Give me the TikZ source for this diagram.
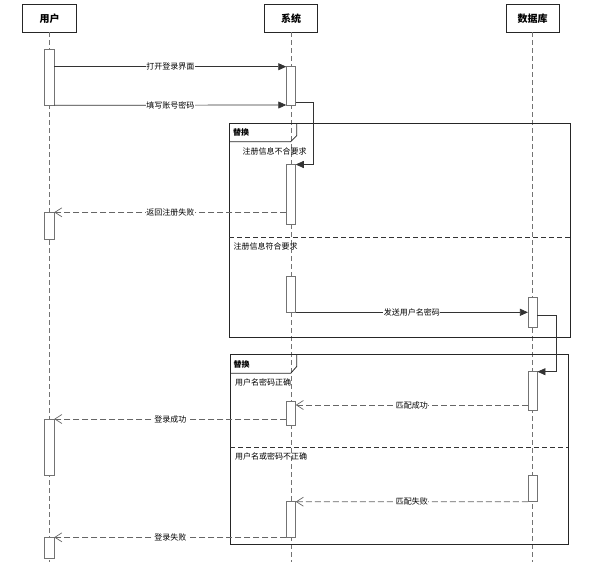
\documentclass[tikz,border=0pt]{standalone}
\usepackage{fontspec}
\setmainfont{Noto Sans CJK SC}
\usepackage{tikz}
\usetikzlibrary{arrows.meta,calc}
\tikzset{head/.style={draw=black!85,line width=0.9pt,fill=white,minimum width=53.5pt,minimum height=27.6pt,inner sep=0pt,outer sep=0pt,font=\fontsize{10}{12}\selectfont\bfseries},
  bar/.style={draw=black!55,line width=0.8pt,fill=white,minimum width=9.5pt,inner sep=0pt,outer sep=0pt,anchor=north},
  life/.style={draw=black!55,dash pattern=on 5pt off 3pt,line width=0.7pt},
  msg/.style={draw=black!80,line width=0.7pt,-{Triangle[length=8pt,width=7pt]}},
  ret/.style={draw=black!60,line width=0.7pt,dash pattern=on 6pt off 3pt,-{Straight Barb[length=7pt,width=9pt]}},
  lbl/.style={fill=white,inner sep=0.5pt,font=\fontsize{8}{9}\selectfont},
  guard/.style={anchor=west,inner sep=0pt,font=\fontsize{8}{9}\selectfont},
  fraglbl/.style={anchor=west,inner sep=0pt,font=\fontsize{8}{9}\selectfont\bfseries},
  sep/.style={draw=black!80,dash pattern=on 5pt off 3pt,line width=0.6pt}}

\begin{document}
\begin{tikzpicture}[x=1pt,y=-1pt,line join=miter]
\useasboundingbox (0,0) rectangle (591,564);
% --- lifelines
\node[head] (user) at (49.5,18.5) {用户};
\node[head] (sys) at (291,18.5) {系统};
\node[head] (db) at (532.7,18.5) {数据库};
\draw[life] (user.south) -- (user.south |- 0,562);
\draw[life] (sys.south) -- (sys.south |- 0,562);
\draw[life] (db.south) -- (db.south |- 0,562);

% --- alt frame 1
\draw[draw=black!85,line width=0.8pt] (229.3,123.3) rectangle (570.3,337.3);
\draw[draw=black!85,line width=0.8pt] (229.3,141.7) -- (290.7,141.7) -- (296.7,135.7) -- (296.7,123.3);
\node[fraglbl] (alt1) at (233,132.5) {替换};
\node[guard] (g1) at (242.5,151) {注册信息不合要求};
\draw[sep] (229.3,237) -- (570.3,237);
\node[guard] (g2) at (233.5,246) {注册信息符合要求};

% --- alt frame 2
\draw[draw=black!85,line width=0.8pt] (230,354.7) rectangle (568.3,544);
\draw[draw=black!85,line width=0.8pt] (230,373.3) -- (290.7,373.3) -- (296.7,366.5) -- (296.7,354.7);
\node[fraglbl] (alt2) at (233.5,364) {替换};
\node[guard] (g3) at (235,382.3) {用户名密码正确};
\draw[sep] (230,447.3) -- (568.3,447.3);
\node[guard] (g4) at (235,456.3) {用户名或密码不正确};

% --- activation bars
\node[bar,minimum height=56pt] (u1) at (49.5,49.3) {};
\node[bar,minimum height=26.7pt] (u2) at (49.5,212.3) {};
\node[bar,minimum height=56pt] (u3) at (49.5,419) {};
\node[bar,minimum height=21pt] (u4) at (49.5,537.3) {};
\node[bar,minimum height=38.3pt] (s1) at (291,66.7) {};
\node[bar,minimum height=59.5pt] (s2) at (291,164.5) {};
\node[bar,minimum height=35.6pt] (s3) at (291,276.7) {};
\node[bar,minimum height=24pt] (s4) at (291,401) {};
\node[bar,minimum height=35.6pt] (s5) at (291,501.7) {};
\node[bar,minimum height=29.6pt] (d1) at (532.7,297.7) {};
\node[bar,minimum height=38.6pt] (d2) at (532.7,371.7) {};
\node[bar,minimum height=26.7pt] (d3) at (532.7,475) {};

% --- messages
\draw[msg] (s1.north west -| u1.east) -- (s1.north west) node[lbl,midway] {打开登录界面};
\draw[msg] (u1.south east) -- (s1.south west) node[lbl,midway] {填写账号密码};
\draw[msg] ([yshift=3pt]s1.south east) -| ([xshift=18pt]s2.north east) -- (s2.north east);
\draw[ret] (u2.north east -| s2.west) -- (u2.north east) node[lbl,midway] {返回注册失败};
\draw[msg] (s3.south east) -- (s3.south east -| d1.west) node[lbl,midway] {发送用户名密码};
\draw[msg] ([yshift=-3pt]d1.east) -| ([xshift=19pt]d2.north east) -- (d2.north east);
\coordinate (m4) at ([yshift=-4pt]s4.north east);
\draw[ret] (m4 -| d2.west) -- (m4) node[lbl,midway] {匹配成功};
\draw[ret] (u3.north east -| s4.west) -- (u3.north east) node[lbl,midway] {登录成功};
\draw[ret] (d3.south west) -- (s5.north east) node[lbl,midway] {匹配失败};
\draw[ret] (s5.south west) -- (u4.north east) node[lbl,midway] {登录失败};
\end{tikzpicture}
\end{document}
